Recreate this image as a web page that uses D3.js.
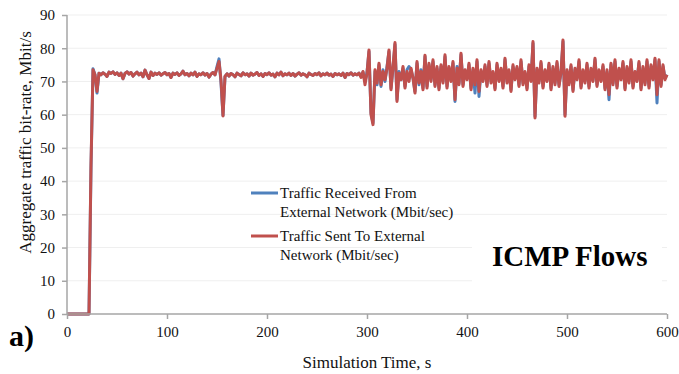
<!DOCTYPE html>
<html>
<head>
<meta charset="utf-8">
<script src="https://cdn.jsdelivr.net/npm/d3@7"></script>
<style>
  html, body { margin: 0; padding: 0; background: #fff; }
  svg { display: block; font-family: "Liberation Serif", "Times New Roman", serif; }
</style>
</head>
<body>
<svg id="chart" width="679" height="374"></svg>
<script>
// Sample times (s), one sample every 2 s.
const times = d3.range( 0, 601, 2 );

// Traffic sent to external network (Mbit/sec), red series.
const sentValues = [
  0, 0, 0, 0, 0, 0, 0, 0, 0, 0, 0, 0, 45, 73.5, 72, 67, 72.5, 72,
  72.6, 72.2, 71.5, 72.8, 72.4, 72.9, 72.1, 72.6, 71.8, 72.5, 70.8, 72.4, 72.9, 72.2, 72.7, 71.6, 72.3, 72.8,
  72.0, 72.5, 71.4, 73.4, 72.0, 70.9, 72.8, 71.8, 72.5, 72.1, 72.6, 71.9, 72.3, 72.7, 72.0, 72.4, 71.2, 72.5,
  72.1, 72.6, 71.8, 72.3, 73.1, 72.0, 72.4, 71.7, 72.5, 72.0, 72.8, 71.5, 72.3, 72.0, 72.6, 71.9, 72.4, 71.3,
  72.2, 72.7, 72.0, 74.0, 76.0, 70.5, 59.6, 71.5, 72.3, 71.6, 72.4, 72.0, 71.4, 72.5, 72.1, 71.7, 72.6, 72.0,
  72.3, 71.6, 72.5, 71.9, 72.2, 72.7, 71.8, 72.3, 71.5, 72.4, 72.0, 72.6, 71.9, 72.2, 71.4, 72.5, 72.0, 72.8,
  71.7, 72.3, 72.0, 72.5, 71.8, 72.4, 71.6, 72.2, 72.6, 71.9, 72.3, 72.0, 71.4, 72.5, 72.1, 71.8, 72.4, 72.0,
  72.6, 71.7, 72.3, 72.0, 72.5, 71.9, 72.2, 71.5, 72.4, 72.0, 72.3, 71.8, 72.5, 71.2, 72.4, 72.0, 72.6, 71.9,
  72.3, 72.0, 72.5, 71.2, 73.0, 69.0, 72.5, 79.5, 60.0, 57.0, 73.5, 69.5, 75.5, 69.0, 73.0, 70.5, 74.0, 79.5,
  67.5, 74.5, 81.7, 64.0, 72.5, 70.5, 74.5, 68.0, 73.0, 70.0, 74.0, 71.0, 66.5, 76.0, 69.5, 73.0, 67.5, 77.9,
  68.0, 75.5, 70.0, 76.5, 68.5, 74.5, 67.5, 75.0, 69.5, 78.0, 68.0, 74.5, 70.0, 76.0, 64.5, 74.0, 69.0, 78.5,
  68.5, 73.5, 70.5, 75.5, 67.5, 74.0, 69.0, 76.5, 67.0, 73.5, 70.0, 75.0, 68.5, 76.0, 69.5, 73.0, 67.5, 75.5,
  70.0, 74.0, 68.0, 77.0, 69.5, 73.5, 67.0, 75.0, 70.5, 74.5, 68.5, 76.5, 69.0, 73.0, 67.5, 75.0, 70.0, 82.0,
  59.0, 74.0, 69.5, 76.0, 68.0, 73.5, 70.0, 75.5, 67.5, 74.5, 69.0, 76.0, 68.5, 73.0, 82.5, 59.5, 73.5, 69.0,
  75.0, 67.0, 74.0, 70.5, 76.5, 68.0, 73.5, 69.5, 75.5, 68.0, 74.0, 70.0, 77.0, 68.5, 73.5, 70.0, 75.0, 67.5,
  73.5, 66.0, 75.5, 69.0, 76.5, 68.0, 74.0, 70.5, 76.0, 67.5, 74.5, 69.5, 76.5, 68.0, 73.0, 70.0, 76.0, 67.5,
  74.5, 69.0, 76.5, 68.0, 75.0, 70.5, 77.0, 66.0, 76.5, 68.5, 75.0, 70.5, 72.0
];

// Traffic received from external network (Mbit/sec), blue series.
const receivedValues = [
  0, 0, 0, 0, 0, 0, 0, 0, 0, 0, 0, 0, 44, 73.8, 72, 66.5, 72.5, 72,
  72.6, 72.2, 71.5, 72.8, 72.4, 72.9, 72.1, 72.6, 71.8, 72.5, 70.8, 72.4, 72.9, 72.2, 72.7, 71.6, 72.3, 72.8,
  72.0, 72.5, 71.4, 73.4, 72.0, 70.9, 72.8, 71.8, 72.5, 72.1, 72.6, 71.9, 72.3, 72.7, 72.0, 72.4, 71.2, 72.5,
  72.1, 72.6, 71.8, 72.3, 73.1, 72.0, 72.4, 71.7, 72.5, 72.0, 72.8, 71.5, 72.3, 72.0, 72.6, 71.9, 72.4, 71.3,
  72.2, 72.7, 72.0, 74.5, 76.8, 69.5, 59.8, 71.5, 72.3, 71.6, 72.4, 72.0, 71.4, 72.5, 72.1, 71.7, 72.6, 72.0,
  72.3, 71.6, 72.5, 71.9, 72.2, 72.7, 71.8, 72.3, 71.5, 72.4, 72.0, 72.6, 71.9, 72.2, 71.4, 72.5, 72.0, 72.8,
  71.7, 72.3, 72.0, 72.5, 71.8, 72.4, 71.6, 72.2, 72.6, 71.9, 72.3, 72.0, 71.4, 72.5, 72.1, 71.8, 72.4, 72.0,
  72.6, 71.7, 72.3, 72.0, 72.5, 71.9, 72.2, 71.5, 72.4, 72.0, 72.3, 71.8, 72.5, 71.2, 72.4, 72.0, 72.6, 71.9,
  72.3, 72.0, 72.5, 71.6, 72.8, 70.0, 72.8, 79.0, 60.5, 57.5, 73.0, 69.0, 75.0, 68.5, 73.5, 70.0, 74.5, 79.0,
  68.0, 74.0, 81.2, 64.5, 73.0, 70.5, 74.0, 68.5, 73.5, 74.5, 73.5, 71.0, 67.0, 75.5, 69.0, 73.5, 68.0, 77.5,
  68.5, 75.0, 70.5, 76.0, 69.0, 74.0, 68.0, 74.5, 70.0, 77.5, 68.5, 74.0, 70.5, 75.5, 64.0, 74.5, 69.5, 78.0,
  69.0, 73.0, 71.0, 75.0, 68.0, 73.5, 66.5, 76.0, 65.5, 73.0, 70.5, 74.5, 69.0, 75.5, 70.0, 72.5, 68.0, 75.0,
  70.5, 73.5, 68.5, 76.5, 70.0, 73.0, 67.5, 74.5, 71.0, 74.0, 69.0, 76.0, 69.5, 72.5, 68.0, 74.5, 70.5, 81.5,
  59.5, 73.5, 70.0, 75.5, 68.5, 73.0, 70.5, 75.0, 68.0, 74.0, 69.5, 75.5, 69.0, 72.5, 82.0, 60.0, 73.0, 69.5,
  74.5, 67.5, 73.5, 71.0, 76.0, 68.5, 73.0, 70.0, 75.0, 68.5, 73.5, 70.5, 76.5, 69.0, 73.0, 70.5, 74.5, 68.0,
  73.0, 64.5, 75.0, 69.5, 76.0, 68.5, 73.5, 71.0, 75.5, 68.0, 74.0, 70.0, 76.0, 68.5, 72.5, 70.5, 75.5, 68.0,
  74.0, 69.5, 76.0, 68.5, 74.5, 71.0, 76.5, 63.5, 76.0, 69.0, 74.5, 71.0, 72.0
];

const xTicks = [ 0, 100, 200, 300, 400, 500, 600 ];
const yTicks = [ 0, 10, 20, 30, 40, 50, 60, 70, 80, 90 ];

const legendLabels = [
  [ 'Traffic Received From', 'External Network (Mbit/sec)' ],
  [ 'Traffic Sent To External', 'Network (Mbit/sec)' ]
];
const seriesColors = [ '#4f81bd', '#c0504d' ];

// Plot area.
const plotLeft = 67, plotRight = 667, plotTop = 15, plotBottom = 314;

const svg = d3.select( '#chart' );

const x = d3.scaleLinear( ).domain( [ 0, 600 ] ).range( [ plotLeft, plotRight ] );
const y = d3.scaleLinear( ).domain( [ 0, 90 ] ).range( [ plotBottom, plotTop ] );

// Horizontal gridlines.
svg.append( 'g' )
  .selectAll( 'line' )
  .data( yTicks.filter( d => d > 0 ) )
  .enter( ).append( 'line' )
    .attr( 'x1', plotLeft ).attr( 'x2', plotRight )
    .attr( 'y1', d => y( d ) ).attr( 'y2', d => y( d ) )
    .attr( 'stroke', '#efefef' )
    .attr( 'stroke-width', 1 );

// Box behind the big title, hides the gridlines there.
svg.append( 'rect' )
  .attr( 'x', 472 ).attr( 'y', 222 )
  .attr( 'width', 190 ).attr( 'height', 74 )
  .attr( 'fill', '#fff' );

// Lines: blue first, red on top.
const line = d3.line( )
  .x( ( d, i ) => x( times[ i ] ) )
  .y( d => y( d ) );

[ receivedValues, sentValues ].forEach( ( values, k ) => {
  svg.append( 'path' )
    .attr( 'd', line( values ) )
    .attr( 'fill', 'none' )
    .attr( 'stroke', seriesColors[ k ] )
    .attr( 'stroke-width', 3 )
    .attr( 'stroke-linejoin', 'round' );
} );

// Axes.
const yAxis = svg.append( 'g' )
  .attr( 'transform', `translate( ${plotLeft}, 0 )` )
  .call( d3.axisLeft( y ).tickValues( yTicks ).tickSize( 5 ).tickPadding( 7 ) );

const xAxis = svg.append( 'g' )
  .attr( 'transform', `translate( 0, ${plotBottom} )` )
  .call( d3.axisBottom( x ).tickValues( xTicks ).tickSize( 5 ).tickPadding( 7 ) );

[ yAxis, xAxis ].forEach( ax => {
  ax.select( '.domain' ).attr( 'stroke', '#a6a6a6' ).attr( 'stroke-width', 1.5 );
  ax.selectAll( '.tick line' ).attr( 'stroke', '#a6a6a6' ).attr( 'stroke-width', 1.5 );
  ax.selectAll( '.tick text' )
    .attr( 'fill', '#111' )
    .style( 'font-family', '"Liberation Serif", serif' )
    .style( 'font-size', '15px' );
} );
yAxis.select( '.domain' ).attr( 'd', `M0,${plotTop}V${plotBottom}` );
xAxis.select( '.domain' ).attr( 'd', `M${plotLeft},0H${plotRight}` );

// Axis titles.
svg.append( 'text' )
  .attr( 'transform', `translate( 25, ${( plotTop + plotBottom ) / 2 - 22} ) rotate( -90 )` )
  .attr( 'text-anchor', 'middle' )
  .attr( 'dy', '0.35em' )
  .style( 'font-size', '17px' )
  .attr( 'fill', '#111' )
  .text( 'Aggregate traffic bit-rate, Mbit/s' );

svg.append( 'text' )
  .attr( 'x', ( plotLeft + plotRight ) / 2 )
  .attr( 'y', 368 )
  .attr( 'text-anchor', 'middle' )
  .style( 'font-size', '17px' )
  .attr( 'fill', '#111' )
  .text( 'Simulation Time, s' );

// Legend.
const legend = svg.append( 'g' ).attr( 'transform', 'translate( 251, 193 )' );
legendLabels.forEach( ( lines, k ) => {
  const g = legend.append( 'g' ).attr( 'transform', `translate( 0, ${k * 43} )` );
  g.append( 'line' )
    .attr( 'x1', 0 ).attr( 'x2', 27 )
    .attr( 'y1', 0 ).attr( 'y2', 0 )
    .attr( 'stroke', seriesColors[ k ] )
    .attr( 'stroke-width', 3 );
  lines.forEach( ( t, j ) => {
    g.append( 'text' )
      .attr( 'x', 29 )
      .attr( 'y', 5 + j * 19 )
      .style( 'font-size', '15px' )
      .attr( 'fill', '#111' )
      .text( t );
  } );
} );

// Big title and panel letter.
svg.append( 'text' )
  .attr( 'x', 492 ).attr( 'y', 266 )
  .style( 'font-size', '29px' )
  .style( 'font-weight', 'bold' )
  .attr( 'fill', '#000' )
  .text( 'ICMP Flows' );

svg.append( 'text' )
  .attr( 'x', 9 ).attr( 'y', 346 )
  .style( 'font-size', '30px' )
  .style( 'font-weight', 'bold' )
  .attr( 'fill', '#000' )
  .text( 'a)' );
</script>
</body>
</html>
